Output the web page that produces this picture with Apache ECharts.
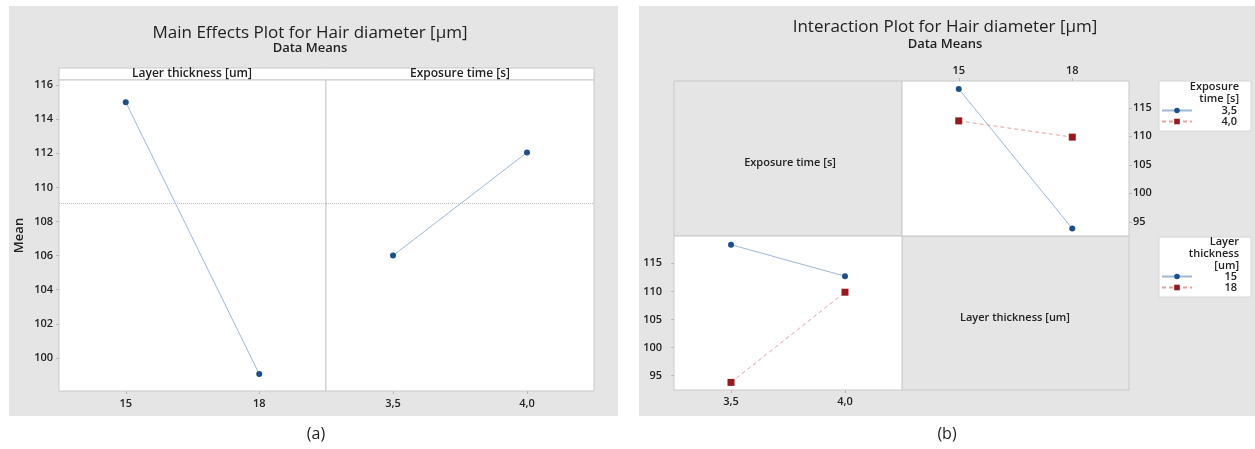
<!DOCTYPE html>
<html><head><meta charset="utf-8">
<script src="https://cdn.jsdelivr.net/npm/echarts@6/dist/echarts.min.js"></script>
<style>html,body{margin:0;padding:0;background:#fff}#c{width:1255px;height:449px}</style>
</head><body><div id="c"></div>
<script>
// ---- data ----
const layerLevels = ['15', '18'];
const exposureLevels = ['3,5', '4,0'];
const mainLayerMeans = [115.0, 99.05];
const mainExposureMeans = [106.0, 112.05];
const grandMean = 109.05;
const layer15ByExposure = [118.3, 112.7];
const layer18ByExposure = [93.8, 109.85];
const exposure35ByLayer = [layer15ByExposure[0], layer18ByExposure[0]];
const exposure40ByLayer = [layer15ByExposure[1], layer18ByExposure[1]];

// ---- style ----
const FONT = '"Open Sans", "Noto Sans", sans-serif';
const PANEL = '#e5e5e5';
const BORDER = '#c9c9c9';
const BLUE = '#1d4f8c', BLUE_LINE = '#9db8d6';
const RED = '#951b1e', RED_LINE = '#e3a3a3';
const LBL = {color: '#222', fontSize: 11, fontWeight: 600, fontFamily: FONT};
const TICK = {show: true, length: 3, lineStyle: {color: '#b8b8b8'}};

function txt(text, x, y, size, weight, align) {
  return {type: 'text', x: x, y: y, silent: true, z: 5,
    style: {text: text, fill: '#222', font: (weight || 'normal') + ' ' + size + 'px ' + FONT,
      align: align || 'center', verticalAlign: 'middle'}};
}
function rect(x, y, w, h, fill, stroke, z) {
  return {type: 'rect', silent: true, z: z == null ? -10 : z, shape: {x: x, y: y, width: w, height: h},
    style: {fill: fill, stroke: stroke || null, lineWidth: 1}};
}

const catX = (gi, data, pos, margin) => ({
  type: 'category', gridIndex: gi, data: data, position: pos || 'bottom', boundaryGap: true,
  axisLine: {show: false}, axisTick: Object.assign({alignWithLabel: true}, TICK),
  axisLabel: Object.assign({margin: margin || 7}, LBL), splitLine: {show: false}
});
const valY = (gi, min, max, split, show, pos, margin, extra) => Object.assign({
  type: 'value', gridIndex: gi, min: min, max: max, splitNumber: split, position: pos || 'left',
  axisLine: {show: false}, axisTick: show ? TICK : {show: false},
  axisLabel: Object.assign({show: show, showMinLabel: false, showMaxLabel: false, margin: margin || 6}, LBL),
  splitLine: {show: false}
}, extra || {});

const meanLine = {silent: true, symbol: 'none', label: {show: false},
  lineStyle: {type: 'dotted', color: '#bdbdbd', width: 1}, data: [{yAxis: grandMean}]};

const gridBase = {show: true, backgroundColor: '#fff', borderColor: BORDER, borderWidth: 1, containLabel: false};
const legendText = {rich: {r: {width: 40, align: 'right', fontSize: 11, fontWeight: 600, color: '#222', fontFamily: FONT, lineHeight: 11}}};

const option = {
  animation: false,
  backgroundColor: '#fff',
  textStyle: {fontFamily: FONT},
  grid: [
    Object.assign({left: 59, top: 80, width: 267, height: 311}, gridBase),
    Object.assign({left: 326, top: 80, width: 268, height: 311}, gridBase),
    Object.assign({left: 902, top: 81, width: 227, height: 155}, gridBase),
    Object.assign({left: 674, top: 236, width: 228, height: 154}, gridBase)
  ],
  xAxis: [
    catX(0, layerLevels),
    catX(1, exposureLevels),
    catX(2, layerLevels, 'top', 5),
    catX(3, exposureLevels, 'bottom', 6)
  ],
  yAxis: [
    valY(0, 98.06, 116.3, 9, true, 'left', 6, {name: 'Mean', nameLocation: 'middle', nameGap: 33, nameRotate: 90,
      nameTextStyle: {color: '#222', fontSize: 13, fontWeight: 600, fontFamily: FONT}}),
    valY(1, 98.06, 116.3, 9, false),
    valY(2, 92.5, 119.7, 5, true, 'right', 4),
    valY(3, 92.45, 119.85, 5, true, 'left', 12)
  ],
  legend: [
    {data: ['3,5', '4,0'], orient: 'vertical', left: 1161, top: 105, itemWidth: 30, itemHeight: 7, itemGap: 0,
      padding: 0, selectedMode: false, formatter: n => '{r|' + n + '}', textStyle: legendText},
    {data: ['15', '18'], orient: 'vertical', left: 1161, top: 271, itemWidth: 30, itemHeight: 7, itemGap: 0,
      padding: 0, selectedMode: false, formatter: n => '{r|' + n + '}', textStyle: legendText}
  ],
  series: [
    {type: 'line', name: 'Layer main', xAxisIndex: 0, yAxisIndex: 0, data: mainLayerMeans,
      symbol: 'circle', symbolSize: 6, itemStyle: {color: BLUE}, lineStyle: {color: BLUE_LINE, width: 1}, markLine: meanLine},
    {type: 'line', name: 'Exposure main', xAxisIndex: 1, yAxisIndex: 1, data: mainExposureMeans,
      symbol: 'circle', symbolSize: 6, itemStyle: {color: BLUE}, lineStyle: {color: BLUE_LINE, width: 1}, markLine: meanLine},
    {type: 'line', name: '3,5', xAxisIndex: 2, yAxisIndex: 2, data: exposure35ByLayer,
      symbol: 'circle', symbolSize: 6, itemStyle: {color: BLUE}, lineStyle: {color: BLUE_LINE, width: 1}},
    {type: 'line', name: '4,0', xAxisIndex: 2, yAxisIndex: 2, data: exposure40ByLayer,
      symbol: 'rect', symbolSize: 7, itemStyle: {color: RED}, lineStyle: {color: RED_LINE, width: 1, type: [4, 3]}},
    {type: 'line', name: '15', xAxisIndex: 3, yAxisIndex: 3, data: layer15ByExposure,
      symbol: 'circle', symbolSize: 6, itemStyle: {color: BLUE}, lineStyle: {color: BLUE_LINE, width: 1}},
    {type: 'line', name: '18', xAxisIndex: 3, yAxisIndex: 3, data: layer18ByExposure,
      symbol: 'rect', symbolSize: 7, itemStyle: {color: RED}, lineStyle: {color: RED_LINE, width: 1, type: [4, 3]}}
  ],
  graphic: {elements: [
    rect(9, 6, 609, 410, PANEL, null, -20),
    rect(639, 6, 620, 410, PANEL, null, -20),
    rect(59, 68, 535, 12, '#fff', BORDER, -5),
    rect(674, 81, 228, 155, PANEL, BORDER, -5),
    rect(902, 236, 227, 154, PANEL, BORDER, -5),
    rect(1159, 81, 92, 50, '#fff', '#d6d6d6', -5),
    rect(1159, 237, 92, 60, '#fff', '#d6d6d6', -5),
    txt('Main Effects Plot for Hair diameter [µm]', 310, 33, 17, 'normal'),
    txt('Data Means', 310, 48, 13, '600'),
    txt('Interaction Plot for Hair diameter [µm]', 945, 27, 17, 'normal'),
    txt('Data Means', 945, 44, 13, '600'),
    txt('Layer thickness [um]', 192, 74, 12, '600'),
    txt('Exposure time [s]', 460, 74, 12, '600'),
    txt('Exposure time [s]', 790, 163, 11, '600'),
    txt('Layer thickness [um]', 1015, 318, 11, '600'),
    txt('(a)', 316, 434, 16, 'normal'),
    txt('(b)', 947, 434, 16, 'normal'),
    txt('Exposure', 1239, 87, 11, '600', 'right'),
    txt('time [s]', 1239, 99, 11, '600', 'right'),
    txt('Layer', 1239, 242, 11, '600', 'right'),
    txt('thickness', 1239, 254, 11, '600', 'right'),
    txt('[um]', 1239, 266, 11, '600', 'right')
  ]}
};

const chart = echarts.init(document.getElementById('c'), null, {renderer: 'canvas'});
chart.setOption(option);
</script>
</body></html>
